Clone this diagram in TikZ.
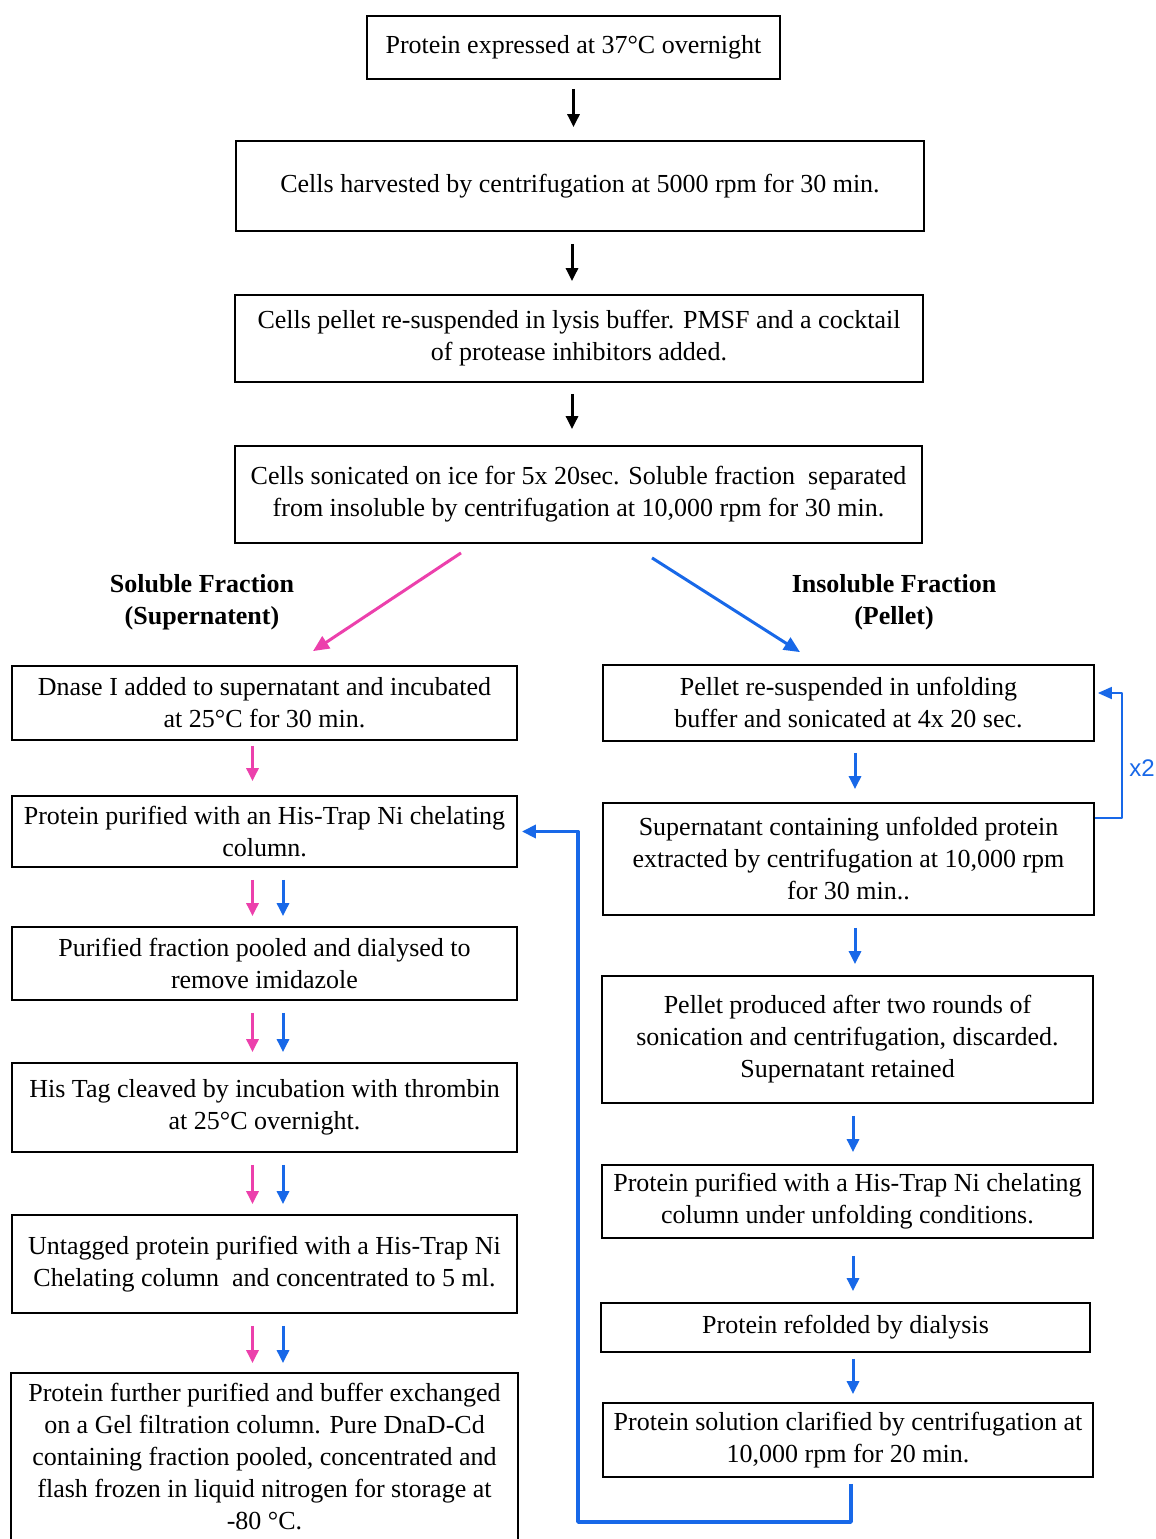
\documentclass[tikz,border=0pt]{standalone}
\usepackage{fontspec}
\setmainfont{Liberation Serif}
\newfontfamily\xfont{Liberation Sans}
\usetikzlibrary{arrows.meta,calc}
\definecolor{pinkc}{RGB}{236,64,172}
\definecolor{bluec}{RGB}{24,104,232}
\newcommand{\mainfs}{\fontsize{26}{32}\selectfont}
\begin{document}
\begin{tikzpicture}[x=1pt,y=-1pt,
  box/.style={draw, line width=1.8pt, align=center, inner sep=0pt, font=\mainfs},
  lbl/.style={align=center, font=\fontsize{26}{32}\selectfont\bfseries},
  arr/.style={-{Triangle[length=13pt,width=12pt]}, line width=3pt},
  blk/.style={arr, black},
  pk/.style={arr, pinkc},
  bl/.style={arr, bluec}]
\useasboundingbox (0,0) rectangle (1156,1539);
\fill[white] (0,0) rectangle (1156,1539);

% main column
\node[box, minimum width=413, minimum height=63] (T) at (573.5,47.5) {Protein expressed at 37°C overnight};
\node[box, minimum width=688, minimum height=90] (C) at (580,186) {Cells harvested by centrifugation at 5000 rpm for 30 min.};
\node[box, minimum width=688, minimum height=87] (P) at (579,338.5) {Cells pellet re-suspended in lysis buffer. PMSF and a cocktail\\ of protease inhibitors added.};
\node[box, minimum width=687, minimum height=97] (S) at (578.5,494.5) {Cells sonicated on ice for 5x 20sec. Soluble fraction\ \ separated\\ from insoluble by centrifugation at 10,000 rpm for 30 min.};

\draw[blk, shorten <=9pt, shorten >=13pt] (T.south) -- (T.south |- C.north);
\draw[blk, shorten <=12pt, shorten >=13pt] ([xshift=-8pt]C.south) -- ([xshift=-8pt]C.south |- P.north);
\draw[blk, shorten <=11pt, shorten >=16pt] ([xshift=-7pt]P.south) -- ([xshift=-7pt]P.south |- S.north);

% branch labels
\node[lbl] (LS) at (202,602) {Soluble Fraction\\ (Supernatent)};
\node[lbl] (LI) at (894,602) {Insoluble Fraction\\ (Pellet)};

% left column
\node[box, minimum width=505, minimum height=74] (L1) at (264.5,703) {Dnase I added to supernatant and incubated\\ at 25°C for 30 min.};
\node[box, minimum width=505, minimum height=71] (L2) at (264.5,831.5) {Protein purified with an His-Trap Ni chelating\\ column.};
\node[box, minimum width=505, minimum height=73] (L3) at (264.5,963.5) {\fontsize{26}{34}\selectfont Purified fraction pooled and dialysed to\\ remove imidazole};
\node[box, minimum width=505, minimum height=89] (L4) at (264.5,1107.5) {His Tag cleaved by incubation with thrombin\\ at 25°C overnight.};
\node[box, minimum width=505, minimum height=98] (L5) at (264.5,1264) {\fontsize{26}{44}\selectfont Untagged protein purified with a His-Trap Ni\\ Chelating column\ \ and concentrated to 5 ml.};
\node[box, draw=none, minimum width=505, minimum height=165] (L6) at (264.5,1456.5) {Protein further purified and buffer exchanged\\ on a Gel filtration column. Pure DnaD-Cd\\ containing fraction pooled, concentrated and\\ flash frozen in liquid nitrogen for storage at\\ -80 °C.};
\draw[line width=1.8pt] (L6.south west) -- (L6.north west) -- (L6.north east) -- (L6.south east);

% right column
\node[box, minimum width=491, minimum height=76] (R1) at (848.5,703) {Pellet re-suspended in unfolding\\ buffer and sonicated at 4x 20 sec.};
\node[box, minimum width=491, minimum height=112] (R2) at (848.5,859) {Supernatant containing unfolded protein\\ extracted by centrifugation at 10,000 rpm\\ for 30 min..};
\node[box, minimum width=491, minimum height=127] (R3) at (847.5,1039.5) {Pellet produced after two rounds of\\ sonication and centrifugation, discarded.\\ Supernatant retained};
\node[box, minimum width=491, minimum height=73] (R4) at (847.5,1201.5) {Protein purified with a His-Trap Ni chelating\\ column under unfolding conditions.};
\node[box, minimum width=489, minimum height=49] (R5) at (845.5,1327.5) {Protein refolded by dialysis};
\node[box, minimum width=490, minimum height=74] (R6) at (848,1440) {Protein solution clarified by centrifugation at\\ 10,000 rpm for 20 min.};

% diagonal branch arrows
\draw[pk, line width=3pt, -{Triangle[length=16pt,width=14pt]}] ($(S.south)+(-117.5,9)$) -- ($(L1.north)+(48.5,-14)$);
\draw[bl, line width=3pt, -{Triangle[length=16pt,width=14pt]}] ($(S.south)+(73.5,14)$) -- ($(R1.north)+(-48.5,-12)$);

% left column arrows
\draw[pk, shorten <=5pt, shorten >=14pt] ([xshift=-12pt]L1.south) -- ([xshift=-12pt]L1.south |- L2.north);
\foreach \a/\b in {L2/L3, L3/L4, L4/L5, L5/L6}{
  \draw[pk, shorten <=12pt, shorten >=10pt] ([xshift=-12pt]\a.south) -- ([xshift=-12pt]\a.south |- \b.north);
  \draw[bl, shorten <=12pt, shorten >=10pt] ([xshift=18.5pt]\a.south) -- ([xshift=18.5pt]\a.south |- \b.north);
}

% right column arrows
\draw[bl, shorten <=11pt, shorten >=13pt] ([xshift=6.5pt]R1.south) -- ([xshift=6.5pt]R1.south |- R2.north);
\draw[bl, shorten <=12pt, shorten >=11pt] ([xshift=6.5pt]R2.south) -- ([xshift=6.5pt]R2.south |- R3.north);
\draw[bl, shorten <=12pt, shorten >=12pt] ([xshift=5.5pt]R3.south) -- ([xshift=5.5pt]R3.south |- R4.north);
\draw[bl, shorten <=17pt, shorten >=11pt] ([xshift=5.5pt]R4.south) -- ([xshift=5.5pt]R4.south |- R5.north);
\draw[bl, shorten <=6pt, shorten >=8pt] ([xshift=7.5pt]R5.south) -- ([xshift=7.5pt]R5.south |- R6.north);

% x2 loop
\coordinate (xr) at (1122,818);
\draw[bl, line width=1.8pt, line join=round, -{Triangle[length=14pt,width=12pt]}] ([yshift=41pt]R2.east) -- (xr) |- ([xshift=3pt,yshift=10pt]R1.east);
\node[text=bluec, font=\xfont\fontsize{24}{28}\selectfont] (x2) at (1142,768) {x2};

% return loop
\coordinate (rc) at (578,1522);
\draw[bl, line width=3.5pt, line join=round, -{Triangle[length=14pt,width=13pt]}] ([xshift=3pt,yshift=-6pt]R6.south) |- (rc) |- ([xshift=4pt]L2.east);
\end{tikzpicture}
\end{document}
